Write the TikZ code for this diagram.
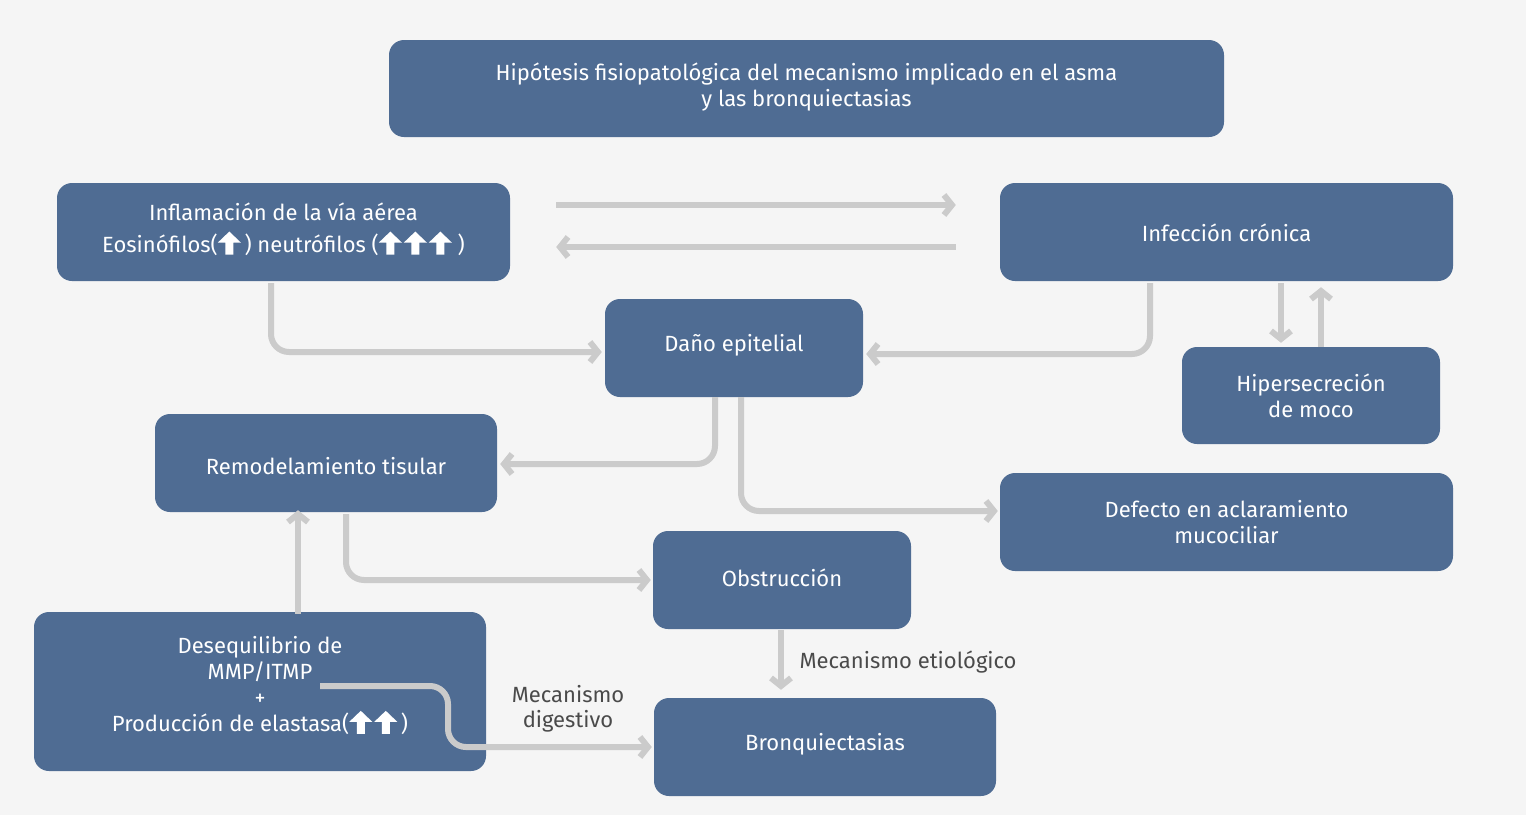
\documentclass[tikz,border=0pt]{standalone}
\usepackage{fontspec}
\setmainfont{Fira Sans}
\usetikzlibrary{arrows.meta,calc}
\definecolor{boxblue}{HTML}{4F6C93}
\definecolor{conngray}{HTML}{CBCBCB}
\definecolor{bggray}{HTML}{F5F5F5}
\definecolor{labgray}{HTML}{4A4A4A}
\newcommand{\upicon}{\tikz[baseline=2.5pt,x=1pt,y=1pt,sharp corners]\fill[white,sharp corners] (0,23) -- (11.5,12) -- (4,12) -- (4,0) -- (-4,0) -- (-4,12) -- (-11.5,12) -- cycle;}
\newcommand{\icgap}{\hspace{2pt}}
\tikzset{
  boxnode/.style={fill=boxblue, rounded corners=15pt, text=white, align=center, inner sep=0pt,
    font=\fontsize{22}{26}\selectfont},
  tbase/.style={text height=#1, text depth=0pt},
  tdep/.style={text depth=#1},
  conn/.style={draw=conngray, line width=6pt, rounded corners=18pt,
    -{Straight Barb[length=8pt,width=20pt]}},
  lab/.style={text=labgray, align=center, font=\fontsize{22}{25}\selectfont}
}
\begin{document}
\begin{tikzpicture}[x=1pt,y=-1pt]
\fill[bggray] (0,0) rectangle (1526,815);
\useasboundingbox (0,0) rectangle (1526,815);

\node[boxnode, tdep=8.5pt, minimum width=835pt, minimum height=97pt] (title) at (806.5,88.5)
  {Hipótesis fisiopatológica del mecanismo implicado en el asma\\y las bronquiectasias};
\node[boxnode, tdep=9.5pt, minimum width=453pt, minimum height=98pt] (infl) at (283.5,232)
  {Inflamación de la vía aérea\\[6pt]Eosinófilos(\upicon\,) neutrófilos (\upicon\icgap\upicon\icgap\upicon\ )};
\node[boxnode, tbase=19.2pt, minimum width=453pt, minimum height=98pt] (infec) at (1226.5,232)
  {Infección crónica};
\node[boxnode, tbase=7.2pt, minimum width=258pt, minimum height=98pt] (dano) at (734,348)
  {Daño epitelial};
\node[boxnode, minimum width=258pt, minimum height=97pt] (hiper) at (1311,395.5)
  {Hipersecreción\\de moco};
\node[boxnode, tbase=22.2pt, minimum width=342pt, minimum height=98pt] (remod) at (326,463)
  {Remodelamiento tisular};
\node[boxnode, minimum width=453pt, minimum height=98pt] (defec) at (1226.5,522)
  {Defecto en aclaramiento\\mucociliar};
\node[boxnode, tbase=13.2pt, minimum width=258pt, minimum height=98pt] (obst) at (782,580)
  {Obstrucción};
\node[boxnode, tdep=15.5pt, minimum width=452pt, minimum height=159pt] (deseq) at (260,691.5)
  {Desequilibrio de\\MMP/ITMP\\+\\Producción de elastasa(\upicon\icgap\upicon\,)};
\node[boxnode, tbase=6.2pt, minimum width=342pt, minimum height=98pt] (bronq) at (825,747)
  {Bronquiectasias};

% horizontal pair
\draw[conn] ($(infl.east)+(46,-27)$) -- ($(infec.west)+(-44,-27)$);
\draw[conn] ($(infec.west)+(-44,15)$) -- ($(infl.east)+(46,15)$);
% to Daño epitelial
\draw[conn, shorten <=2pt, shorten >=3pt] ([xshift=-12.5pt]infl.south) |- ([yshift=-4pt]dano.west);
\draw[conn, shorten <=2pt, shorten >=3pt] ([xshift=-76.5pt]infec.south) |- ([yshift=-6pt]dano.east);
% Infección <-> Hipersecreción
\coordinate (hd) at ($(hiper.north)+(-30,0)$);
\coordinate (hu) at ($(hiper.north)+(10,0)$);
\draw[conn, shorten <=2pt, shorten >=4pt] (hd |- infec.south) -- (hd);
\draw[conn, shorten >=6pt] (hu) -- (hu |- infec.south);
% from Daño epitelial
\draw[conn, shorten >=3pt] ([xshift=-19pt]dano.south) |- ([yshift=-1pt]remod.east);
\draw[conn, shorten >=2pt] ([xshift=7pt]dano.south) |- ([yshift=11pt]defec.west);
% Remodelamiento -> Obstrucción
\draw[conn, shorten <=2pt, shorten >=2pt] ([xshift=20pt]remod.south) |- (obst.west);
% Desequilibrio -> Remodelamiento
\draw[conn, shorten <=-2pt, shorten >=-2pt] ([xshift=38pt]deseq.north) -- ([xshift=38pt]deseq.north |- remod.south);
% Obstrucción -> Bronquiectasias
\draw[conn, shorten <=1pt, shorten >=8pt] ([xshift=-1pt]obst.south) -- ([xshift=-1pt]obst.south |- bronq.north);
% Desequilibrio -> Bronquiectasias
\coordinate (dstart) at ($(deseq.center)+(60,-5.5)$);
\draw[conn, shorten >=2pt] (dstart) -- ($(dstart)+(128,0)$) |- (bronq.west);

% labels
\node[lab, anchor=west] (etio) at (796,662) {Mecanismo etiológico};
\node[lab] (dig) at (568,709) {Mecanismo\\digestivo};
\end{tikzpicture}
\end{document}
